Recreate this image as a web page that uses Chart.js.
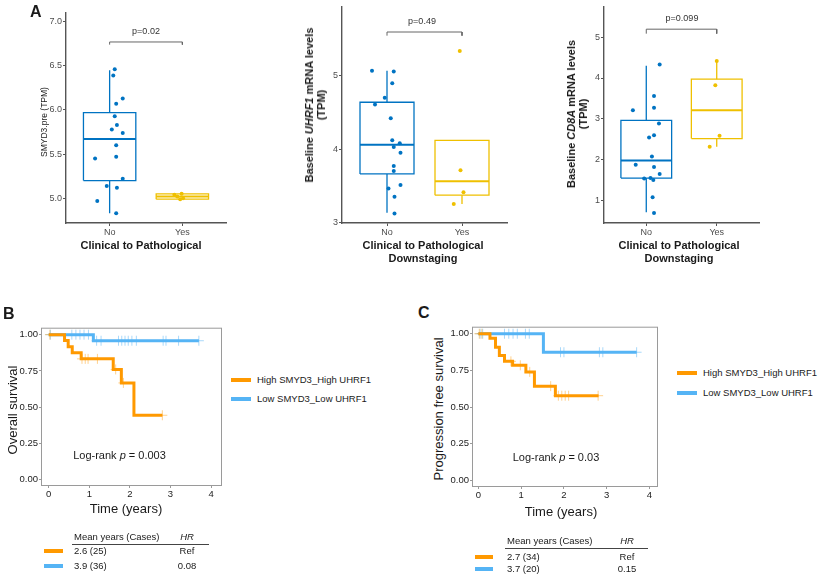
<!DOCTYPE html>
<html>
<head>
<meta charset="utf-8">
<script src="https://cdn.jsdelivr.net/npm/chart.js@4.4.1/dist/chart.umd.min.js"></script>
<style>
  body { margin: 0; width: 825px; height: 579px; position: relative; overflow: hidden; background: #fff;
         font-family: "Liberation Sans", Arial, sans-serif; color: #1a1a1a; }
  canvas { position: absolute; }
  .t { position: absolute; white-space: nowrap; line-height: 1; transform: translate(-50%, -50%); }
  .l { position: absolute; white-space: nowrap; line-height: 1; transform: translateY(-50%); }
  .rot { transform: translate(-50%, -50%) rotate(-90deg); text-align: center; }
  .tag { font-weight: bold; font-size: 16px; }
  .xt { font-weight: bold; font-size: 11px; text-align: center; line-height: 12.5px; }
  .yt { font-weight: bold; font-size: 11px; line-height: 12px; }
  .pv { font-size: 9px; color: #333; }
  .km { font-size: 13px; }
  .sw { position: absolute; height: 4px; transform: translateY(-50%); }
  .small { font-size: 9.5px; }
  .rule { position: absolute; height: 1px; background: #444; }
</style>
</head>
<body>
<canvas id="a1"></canvas>
<canvas id="a2"></canvas>
<canvas id="a3"></canvas>
<canvas id="b"></canvas>
<canvas id="c"></canvas>

<!-- panel A text -->
<div class="l tag" style="left:30px; top:12px;">A</div>
<div class="t pv" style="left:146px; top:30.5px;">p=0.02</div>
<div class="t rot" style="left:44px; top:122px; font-size:8.5px;">SMYD3.pre (TPM)</div>
<div class="t xt" style="left:141px; top:245px;">Clinical to Pathological</div>

<div class="t pv" style="left:422px; top:20.5px;">p=0.49</div>
<div class="t rot yt" style="left:314.5px; top:105px;">Baseline <i>UHRF1</i> mRNA levels<br>(TPM)</div>
<div class="t xt" style="left:423px; top:251px;">Clinical to Pathological<br>Downstaging</div>

<div class="t pv" style="left:682px; top:17.5px;">p=0.099</div>
<div class="t rot yt" style="left:577px; top:114px;">Baseline <i>CD8A</i> mRNA levels<br>(TPM)</div>
<div class="t xt" style="left:679px; top:251px;">Clinical to Pathological<br>Downstaging</div>

<!-- panel B text -->
<div class="l tag" style="left:3px; top:314px;">B</div>
<div class="t rot km" style="left:11.5px; top:410px;">Overall survival</div>
<div class="t km" style="left:126px; top:508px;">Time (years)</div>
<div class="t" style="left:119.5px; top:455px; font-size:11px;">Log-rank <i>p</i> = 0.003</div>
<div class="sw" style="left:231px; top:380px; width:20px; background:#FF9900;"></div>
<div class="l small" style="left:257px; top:380px;">High SMYD3_High UHRF1</div>
<div class="sw" style="left:231px; top:399px; width:20px; background:#55B4F5;"></div>
<div class="l small" style="left:257px; top:399px;">Low SMYD3_Low UHRF1</div>
<div class="l small" style="left:74px; top:537px;">Mean years (Cases)</div>
<div class="t small" style="left:187px; top:537px;"><i>HR</i></div>
<div class="rule" style="left:72px; top:544px; width:137px;"></div>
<div class="sw" style="left:44px; top:551px; width:19px; background:#FF9900;"></div>
<div class="l small" style="left:74px; top:551px;">2.6 (25)</div>
<div class="t small" style="left:187px; top:551px;">Ref</div>
<div class="sw" style="left:44px; top:566px; width:19px; background:#55B4F5;"></div>
<div class="l small" style="left:74px; top:566px;">3.9 (36)</div>
<div class="t small" style="left:187px; top:566px;">0.08</div>

<!-- panel C text -->
<div class="l tag" style="left:418px; top:313px;">C</div>
<div class="t rot km" style="left:437.5px; top:409px;">Progression free survival</div>
<div class="t km" style="left:561px; top:511px;">Time (years)</div>
<div class="t" style="left:556px; top:457px; font-size:11px;">Log-rank <i>p</i> = 0.03</div>
<div class="sw" style="left:677px; top:373px; width:20px; background:#FF9900;"></div>
<div class="l small" style="left:703px; top:373px;">High SMYD3_High UHRF1</div>
<div class="sw" style="left:677px; top:393px; width:20px; background:#55B4F5;"></div>
<div class="l small" style="left:703px; top:393px;">Low SMYD3_Low UHRF1</div>
<div class="l small" style="left:507px; top:541px;">Mean years (Cases)</div>
<div class="t small" style="left:627px; top:541px;"><i>HR</i></div>
<div class="rule" style="left:505px; top:548px; width:143px;"></div>
<div class="sw" style="left:475px; top:557px; width:18px; background:#FF9900;"></div>
<div class="l small" style="left:507px; top:557px;">2.7 (34)</div>
<div class="t small" style="left:627px; top:557px;">Ref</div>
<div class="sw" style="left:475px; top:569px; width:18px; background:#55B4F5;"></div>
<div class="l small" style="left:507px; top:569px;">3.7 (20)</div>
<div class="t small" style="left:627px; top:569px;">0.15</div>

<script>
// ---- data ----
const groups = ['No', 'Yes'];

// A left: SMYD3.pre (TPM)
const smydTicks = [5.0, 5.5, 6.0, 6.5, 7.0];
const smydNoX = [1.07, 1.05, 1.18, 1.09, 1.07, 1.10, 1.03, 1.18, 1.09, 1.09, 0.80, 1.18, 0.96, 1.10, 0.83, 1.09];
const smydNoY = [6.46, 6.39, 6.13, 6.07, 5.93, 5.83, 5.78, 5.74, 5.60, 5.47, 5.45, 5.22, 5.14, 5.12, 4.97, 4.83];
const smydYesX = [1.89, 1.99, 1.97, 2.01, 1.93];
const smydYesY = [5.04, 5.05, 4.99, 5.00, 5.02];
const smydBox = [[4.83, 5.20, 5.67, 5.97, 6.45], [4.98, 4.99, 5.02, 5.05, 5.06]];
const smydBracket = [6.74, 6.77];

// A middle: UHRF1
const uhrfTicks = [3, 4, 5];
const uhrfNoX = [0.80, 1.09, 1.07, 0.97, 0.84, 1.05, 1.07, 1.17, 1.09, 1.18, 1.09, 1.09, 1.18, 1.02, 1.10, 1.10];
const uhrfNoY = [5.07, 5.06, 4.90, 4.70, 4.61, 4.42, 4.12, 4.08, 4.03, 3.95, 3.77, 3.70, 3.51, 3.46, 3.35, 3.12];
const uhrfYesX = [1.97, 1.98, 2.02, 1.89];
const uhrfYesY = [5.34, 3.71, 3.41, 3.25];
const uhrfBox = [[3.13, 3.66, 4.06, 4.64, 5.07], [3.25, 3.37, 3.56, 4.12, 4.12]];
const uhrfBracket = [5.55, 5.60];

// A right: CD8A
const cd8Ticks = [1, 2, 3, 4, 5];
const cd8NoX = [1.19, 0.81, 1.11, 1.11, 1.18, 1.11, 1.04, 1.08, 0.85, 1.11, 1.19, 0.97, 1.06, 1.10, 1.09, 1.11];
const cd8NoY = [4.33, 3.21, 3.56, 3.27, 2.88, 2.59, 2.54, 2.07, 1.87, 1.81, 1.64, 1.53, 1.54, 1.49, 1.07, 0.68];
const cd8YesX = [2.00, 1.98, 2.04, 1.90];
const cd8YesY = [4.42, 3.82, 2.58, 2.31];
const cd8Box = [[0.70, 1.54, 1.97, 2.96, 4.30], [2.31, 2.51, 3.21, 3.97, 4.44]];
const cd8Bracket = [5.09, 5.20];

// B / C: Kaplan-Meier
const kmTicksX = [0, 1, 2, 3, 4];
const kmTicksY = [0, 0.25, 0.5, 0.75, 1];

const osHighT = [0, 0.39, 0.48, 0.58, 0.80, 1.59, 1.79, 2.10, 2.80];
const osHighS = [1, 0.96, 0.917, 0.875, 0.833, 0.76, 0.667, 0.444, 0.444];
const osLowT = [0, 1.10, 3.70];
const osLowS = [1, 0.958, 0.958];
const osHighCens = [0.03, 0.82, 0.90, 0.97, 1.20, 1.65, 1.84, 2.80];
const osLowCens = [0.04, 0.57, 0.67, 0.77, 0.87, 0.98, 1.18, 1.29, 1.72, 1.80, 1.88, 1.96, 2.05, 2.16, 2.82, 2.89, 3.20, 3.70];

const pfsHighT = [0, 0.27, 0.40, 0.49, 0.61, 0.80, 1.11, 1.31, 1.80, 2.81];
const pfsHighS = [1, 0.969, 0.908, 0.852, 0.812, 0.785, 0.74, 0.643, 0.578, 0.578];
const pfsLowT = [0, 1.52, 3.70];
const pfsLowS = [1, 0.874, 0.874];
const pfsHighCens = [0.02, 0.08, 0.76, 0.98, 1.20, 1.69, 1.87, 1.95, 2.03, 2.11, 2.80];
const pfsLowCens = [0.04, 0.10, 0.61, 0.71, 0.81, 0.91, 1.10, 1.19, 1.92, 2.00, 2.83, 2.91, 3.70];

const groupColors = ['#0073C2', '#EFC000'];
const kmOrange = '#FF9900', kmBlue = '#55B4F5';

Chart.defaults.font.family = '"Liberation Sans", Arial, sans-serif';

function placeCanvas(id, area, yw, xh) {
  const c = document.getElementById(id);
  const left = area.l - yw, top = area.t - 6;
  c.width = area.r - left + 6;
  c.height = area.b - top + xh;
  c.style.left = left + 'px';
  c.style.top = top + 'px';
  return c;
}

function axis(min, max, ticks, fmt, fit, opts) {
  return Object.assign({
    type: 'linear', min: min, max: max,
    afterBuildTicks: s => { s.ticks = ticks.map(v => ({ value: v })); },
    afterFit: fit,
    ticks: { callback: fmt, font: { size: 9 }, color: '#4d4d4d', padding: 1 },
    grid: { drawOnChartArea: false, tickLength: 3, color: '#555' },
    border: { color: '#555', width: 1.4 }
  }, opts || {});
}

function boxPanel(id, area, yMin, yMax, yTicks, yFmt, noX, noY, yesX, yesY, box, bracket) {
  const c = placeCanvas(id, area, 40, 20);
  const pts = (xs, ys) => xs.map((x, i) => ({ x: x, y: ys[i] }));
  const ds = [
    { data: pts(noX, noY), backgroundColor: groupColors[0], borderWidth: 0, pointRadius: 2 },
    { data: pts(yesX, yesY), backgroundColor: groupColors[1], borderWidth: 0, pointRadius: 2 }
  ];
  const h = 0.36;
  box.forEach((b, i) => {
    const x = i + 1, col = groupColors[i];
    const line = { showLine: true, pointRadius: 0, borderColor: col, borderWidth: 1.3, fill: false };
    ds.push(Object.assign({ data: [{ x: x - h, y: b[1] }, { x: x + h, y: b[1] }, { x: x + h, y: b[3] }, { x: x - h, y: b[3] }, { x: x - h, y: b[1] }] }, line));
    ds.push(Object.assign({ data: [{ x: x - h, y: b[2] }, { x: x + h, y: b[2] }] }, line, { borderWidth: 2 }));
    ds.push(Object.assign({ data: [{ x: x, y: b[0] }, { x: x, y: b[1] }] }, line));
    ds.push(Object.assign({ data: [{ x: x, y: b[3] }, { x: x, y: b[4] }] }, line));
  });
  ds.push({ showLine: true, pointRadius: 0, borderColor: '#666', borderWidth: 1,
            data: [{ x: 1, y: bracket[0] }, { x: 1, y: bracket[1] }, { x: 2, y: bracket[1] }, { x: 2, y: bracket[0] }] });

  new Chart(c, {
    type: 'scatter',
    data: { datasets: ds },
    options: {
      responsive: false, animation: false, devicePixelRatio: 1,
      layout: { padding: { top: 6, right: 6, left: 0, bottom: 0 }, autoPadding: false },
      plugins: { legend: { display: false }, tooltip: { enabled: false } },
      scales: {
        x: axis(0.4, 2.6, [1, 2], v => groups[v - 1], s => { s.height = 20; }),
        y: axis(yMin, yMax, yTicks, yFmt, s => { s.width = 40; })
      }
    }
  });
}

boxPanel('a1', { l: 66, t: 12, r: 226, b: 223 }, 4.72, 7.105, smydTicks, v => v.toFixed(1),
         smydNoX, smydNoY, smydYesX, smydYesY, smydBox, smydBracket);
boxPanel('a2', { l: 342, t: 6, r: 507, b: 223 }, 2.99, 5.95, uhrfTicks, v => v,
         uhrfNoX, uhrfNoY, uhrfYesX, uhrfYesY, uhrfBox, uhrfBracket);
boxPanel('a3', { l: 604, t: 6, r: 759, b: 223 }, 0.436, 5.76, cd8Ticks, v => v,
         cd8NoX, cd8NoY, cd8YesX, cd8YesY, cd8Box, cd8Bracket);

// survival at time t from a step curve
function survAt(T, S, t) {
  let s = S[0];
  for (let i = 0; i < T.length; i++) if (T[i] <= t) s = S[i];
  return s;
}

const framePlugin = {
  id: 'frame',
  beforeDatasetsDraw(chart) {
    const a = chart.chartArea, ctx = chart.ctx;
    ctx.save();
    ctx.strokeStyle = '#9a9a9a';
    ctx.lineWidth = 1;
    ctx.strokeRect(a.left + 0.5, a.top + 0.5, a.right - a.left - 1, a.bottom - a.top - 1);
    ctx.restore();
  }
};

function kmPanel(id, area, xMin, xMax, hiT, hiS, loT, loS, hiC, loC) {
  const c = placeCanvas(id, area, 26, 17);
  const curve = (T, S) => T.map((t, i) => ({ x: t, y: S[i] }));
  const cens = (T, S, C) => C.map(t => ({ x: t, y: survAt(T, S, t) }));
  const kmAxis = (min, max, ticks, fmt, fit) => axis(min, max, ticks, fmt, fit, {
    ticks: { callback: fmt, font: { size: 9.5 }, color: '#222', padding: 1 },
    grid: { drawOnChartArea: false, tickLength: 2, color: '#9a9a9a' },
    border: { display: false }
  });
  new Chart(c, {
    type: 'scatter',
    data: {
      datasets: [
        { data: curve(hiT, hiS), showLine: true, stepped: true, borderColor: kmOrange, borderWidth: 3, pointRadius: 0 },
        { data: curve(loT, loS), showLine: true, stepped: true, borderColor: kmBlue, borderWidth: 3, pointRadius: 0 },
        { data: cens(hiT, hiS, hiC), pointStyle: 'cross', pointRadius: 5, borderWidth: 1, borderColor: 'rgba(255,153,0,0.45)' },
        { data: cens(loT, loS, loC), pointStyle: 'cross', pointRadius: 5, borderWidth: 1, borderColor: 'rgba(85,180,245,0.5)' }
      ]
    },
    options: {
      responsive: false, animation: false, devicePixelRatio: 1,
      layout: { padding: { top: 6, right: 6, left: 0, bottom: 0 }, autoPadding: false },
      plugins: { legend: { display: false }, tooltip: { enabled: false } },
      scales: {
        x: kmAxis(xMin, xMax, kmTicksX, v => v, s => { s.height = 17; }),
        y: kmAxis(-0.044, 1.048, kmTicksY, v => v.toFixed(2), s => { s.width = 26; })
      }
    },
    plugins: [framePlugin]
  });
}

kmPanel('b', { l: 41, t: 327, r: 222, b: 486 }, -0.19, 4.27, osHighT, osHighS, osLowT, osLowS, osHighCens, osLowCens);
kmPanel('c', { l: 472, t: 326, r: 658, b: 487 }, -0.15, 4.2, pfsHighT, pfsHighS, pfsLowT, pfsLowS, pfsHighCens, pfsLowCens);
</script>
</body>
</html>
